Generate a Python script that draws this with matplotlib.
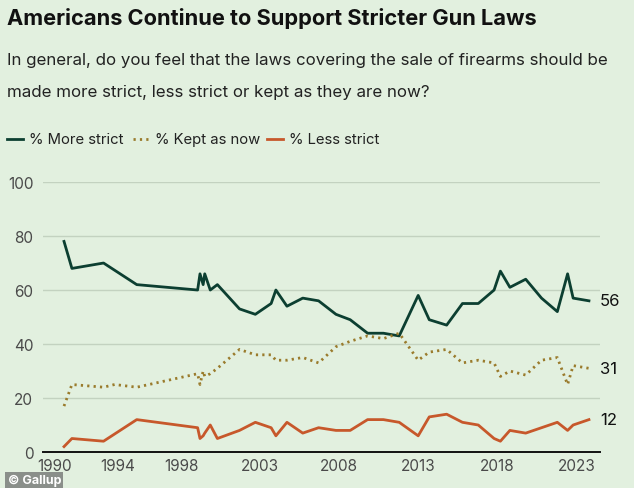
import matplotlib
matplotlib.use("Agg")
import matplotlib.pyplot as plt
from matplotlib.lines import Line2D

plt.rcParams['font.family'] = ['Inter', 'DejaVu Sans']

# poll dates (decimal years) and results
dates = [1990.6, 1991.1, 1993.1, 1995.2, 1999.05, 1999.2, 1999.4, 1999.5, 1999.85,
         2000.3, 2001.7, 2002.7, 2003.7, 2004.0, 2004.7, 2005.7, 2006.7, 2007.8,
         2008.7, 2009.8, 2010.8, 2011.8, 2013.0, 2013.7, 2014.8, 2015.8, 2016.8,
         2017.8, 2018.2, 2018.8, 2019.8, 2020.8, 2021.8, 2022.45, 2022.8, 2023.8]
more_strict = [78, 68, 70, 62, 60, 66, 62, 66, 60,
               62, 53, 51, 55, 60, 54, 57, 56, 51,
               49, 44, 44, 43, 58, 49, 47, 55, 55,
               60, 67, 61, 64, 57, 52, 66, 57, 56]
less_strict = [2, 5, 4, 12, 9, 5, 6, 7, 10,
               5, 8, 11, 9, 6, 11, 7, 9, 8,
               8, 12, 12, 11, 6, 13, 14, 11, 10,
               5, 4, 8, 7, 9, 11, 8, 10, 12]
kept_dates = [1990.6, 1991.1, 1993.1, 1993.8, 1995.2, 1999.05, 1999.2, 1999.4, 1999.5, 1999.85,
              2000.3, 2001.7, 2002.7, 2003.7, 2004.0, 2004.7, 2005.7, 2006.7, 2007.8,
              2008.7, 2009.8, 2010.8, 2011.8, 2013.0, 2013.7, 2014.8, 2015.8, 2016.8,
              2017.8, 2018.2, 2018.8, 2019.8, 2020.8, 2021.8, 2022.45, 2022.8, 2023.8]
kept_as_now = [17, 25, 24, 25, 24, 29, 25, 30, 28, 29,
               31, 38, 36, 36, 34, 34, 35, 33, 39,
               41, 43, 42, 44, 34, 37, 38, 33, 34,
               33, 28, 30, 28.5, 34, 35, 25, 32, 31]

xticks = [1990, 1994, 1998, 2003, 2008, 2013, 2018, 2023]
yticks = [0, 20, 40, 60, 80, 100]
legend_labels = ["% More strict", "% Kept as now", "% Less strict"]

bg = "#e2f0df"
c_more = "#0c3f31"
c_kept = "#9a7b2c"
c_less = "#c7582b"
dots = (0, (0.8, 1.5))

W, H = 634, 489
fig = plt.figure(figsize=(W / 100, H / 100), dpi=100, facecolor=bg)
ax = fig.add_axes([0.0678, 0.0736, 0.8786, 0.5521], facecolor=bg)

ax.plot(dates, more_strict, color=c_more, lw=2.0)
ax.plot(kept_dates, kept_as_now, color=c_kept, lw=2.0, linestyle=dots)
ax.plot(dates, less_strict, color=c_less, lw=2.0)

ax.set_xlim(1989.27, 2024.5)
ax.set_ylim(0, 100)
ax.set_xticks(xticks)
ax.set_xticklabels([str(t) for t in xticks])
ax.set_yticks(yticks)
ax.tick_params(length=0, labelsize=11, colors="#4a4a4a")
ax.tick_params(axis='x', pad=4)
ax.tick_params(axis='y', pad=7)
for s in ['top', 'right', 'left']:
    ax.spines[s].set_visible(False)
ax.spines['bottom'].set_color("#111111")
ax.spines['bottom'].set_linewidth(1.4)
for y in yticks[1:]:
    ax.axhline(y, color="#c3d2c0", lw=1, zorder=0)

# end labels
for val in [more_strict[-1], kept_as_now[-1], less_strict[-1]]:
    ax.annotate(str(int(val)), xy=(dates[-1], val), xytext=(8, 0), textcoords='offset points',
                va='center', ha='left', fontsize=12, color="#111111", annotation_clip=False)

fig.text(0.011, 0.962, "Americans Continue to Support Stricter Gun Laws", fontsize=15.7,
         fontweight='bold', color="#111111", va='center')
fig.text(0.011, 0.876, "In general, do you feel that the laws covering the sale of firearms should be",
         fontsize=12.2, color="#222222", va='center')
fig.text(0.011, 0.810, "made more strict, less strict or kept as they are now?",
         fontsize=12.2, color="#222222", va='center')

# legend drawn by hand (pixel positions)
leg_y = 1 - 140 / H
styles = [dict(color=c_more), dict(color=c_kept, linestyle=dots), dict(color=c_less)]
starts = [7, 133, 267]
for x0, st, lab in zip(starts, styles, legend_labels):
    fig.add_artist(Line2D([x0 / W, (x0 + 16) / W], [leg_y, leg_y], lw=2, **st))
    fig.text((x0 + 22) / W, leg_y, lab, fontsize=10.7, color="#222222", va='center')

fig.text(0.012, 0.004, "© Gallup", fontsize=9, fontweight='bold', color="white",
         va='bottom', bbox=dict(facecolor="#8a8f8a", edgecolor='none', pad=1.5))

fig.savefig("out.png", dpi=100, facecolor=bg)
